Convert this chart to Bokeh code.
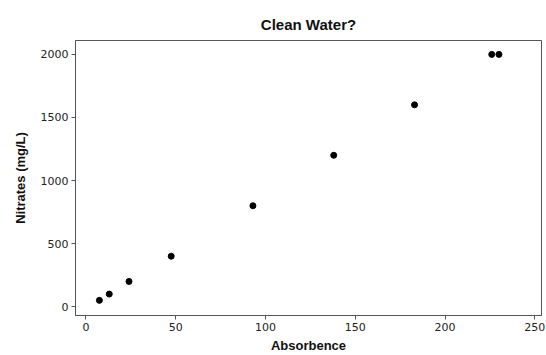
from bokeh.plotting import figure
from bokeh.models import Range1d, FixedTicker, ColumnDataSource
from bokeh.embed import file_html
from bokeh.resources import INLINE

absorbence = [7.5, 13, 24, 47.5, 93, 138, 183, 226, 230]
nitrates = [50, 100, 200, 400, 800, 1200, 1600, 2000, 2000]
x_ticks = [0, 50, 100, 150, 200, 250]
y_ticks = [0, 500, 1000, 1500, 2000]

src = ColumnDataSource(dict(x=absorbence, y=nitrates))

p = figure(width=546, height=355, output_backend="svg", toolbar_location=None,
           x_range=Range1d(-5.8, 253.7), y_range=Range1d(-70, 2110),
           title="Clean Water?")
p.min_border_left = 75
p.min_border_right = 5
p.min_border_top = 40
p.min_border_bottom = 37

p.scatter("x", "y", source=src, size=6, color="black")

p.title.align = "center"
p.title.text_font = "Liberation Sans"
p.title.text_font_size = "15px"
p.title.text_font_style = "bold"
p.title.text_color = "#111111"
p.title.standoff = 16

p.outline_line_color = "#555555"
p.outline_line_width = 1
p.xgrid.visible = False
p.ygrid.visible = False

for ax in (p.xaxis[0], p.yaxis[0]):
    ax.axis_line_color = "#555555"
    ax.major_tick_line_color = "#555555"
    ax.major_tick_in = 0
    ax.major_tick_out = 4
    ax.minor_tick_line_color = None
    ax.major_label_text_font = "DejaVu Sans"
    ax.major_label_text_font_size = "11px"
    ax.major_label_text_color = "#222222"
    ax.axis_label_text_font = "Liberation Sans"
    ax.axis_label_text_font_size = "13px"
    ax.axis_label_text_font_style = "bold"
    ax.axis_label_text_color = "#111111"

p.xaxis[0].ticker = FixedTicker(ticks=x_ticks)
p.yaxis[0].ticker = FixedTicker(ticks=y_ticks)
p.xaxis[0].axis_label = "Absorbence"
p.yaxis[0].axis_label = "Nitrates (mg/L)"
p.xaxis[0].major_label_standoff = 3
p.yaxis[0].major_label_standoff = 3
p.xaxis[0].axis_label_standoff = 4
p.yaxis[0].axis_label_standoff = 10

open("out.html", "w").write(file_html(p, INLINE))
